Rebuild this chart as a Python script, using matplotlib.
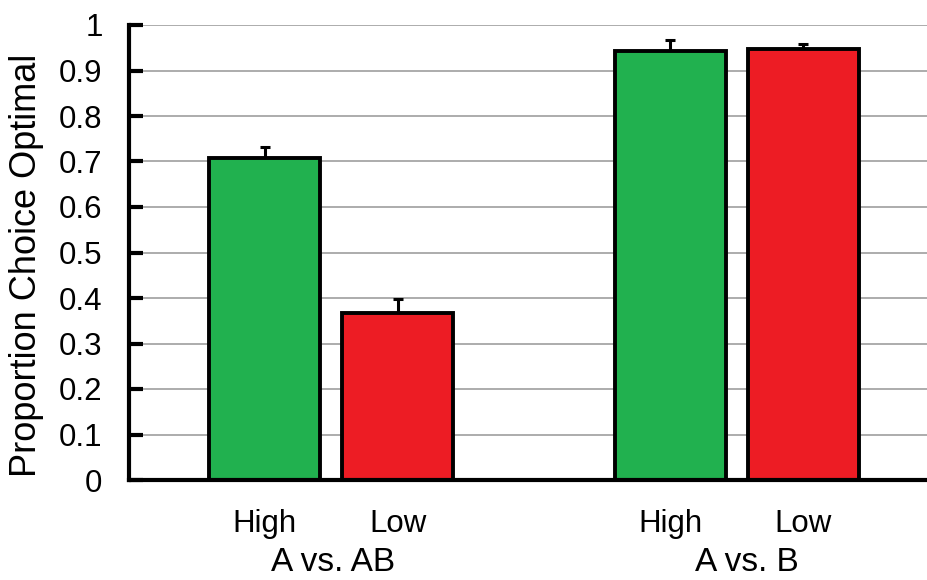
import matplotlib.pyplot as plt
import numpy as np

plt.rcParams['font.family'] = ['Liberation Sans', 'DejaVu Sans']

conditions = ['High', 'Low', 'High', 'Low']
groups = ['A vs. AB', 'A vs. B']
means = [0.708, 0.367, 0.943, 0.947]
errors = [0.024, 0.030, 0.024, 0.012]
colors = ['#21B14F', '#ED1C24', '#21B14F', '#ED1C24']
positions = [0, 1, 3.05, 4.05]

fig = plt.figure(figsize=(9.27, 5.8), dpi=100)
ax = fig.add_axes([129 / 927, 1 - 480 / 580, 1 - 129 / 927, 455 / 580])

ax.bar(positions, means, width=0.83, color=colors, edgecolor='black',
       linewidth=2.8, zorder=3)
ax.errorbar(positions, means, yerr=[np.zeros(len(errors)), errors], fmt='none',
            ecolor='black', elinewidth=2.2, capsize=3.8, capthick=2.2, zorder=2)

ax.set_ylim(0, 1)
ax.set_xlim(-1.02, 4.98)
ax.set_yticks(np.arange(0, 1.01, 0.1))
ax.set_yticklabels(['0'] + ['%.1f' % v for v in np.arange(0.1, 0.95, 0.1)] + ['1'])
ax.yaxis.grid(True, color='#a6a6a6', linewidth=1.3, zorder=0)
ax.set_axisbelow(True)

ax.set_xticks(positions)
ax.set_xticklabels(conditions)
ax.tick_params(axis='x', length=0, pad=21, labelsize=22.5)
ax.tick_params(axis='y', direction='in', length=10, width=3, pad=19, labelsize=22.5)

for side in ['top', 'right']:
    ax.spines[side].set_visible(False)
ax.spines['left'].set_linewidth(3)
ax.spines['bottom'].set_linewidth(3)
ax.spines['bottom'].set_zorder(4)

# group names under the condition labels
for i, g in enumerate(groups):
    xc = np.mean(positions[2 * i:2 * i + 2]) + 0.06 * (i + 0.3)
    ax.text(xc, -0.201, g, transform=ax.get_xaxis_transform(), ha='center',
            va='baseline', fontsize=24)

fig.text(27 / 927, 1 - 265 / 580, 'Proportion Choice Optimal', rotation=90,
         ha='center', va='center', fontsize=26)

fig.savefig('out.png', dpi=100)
